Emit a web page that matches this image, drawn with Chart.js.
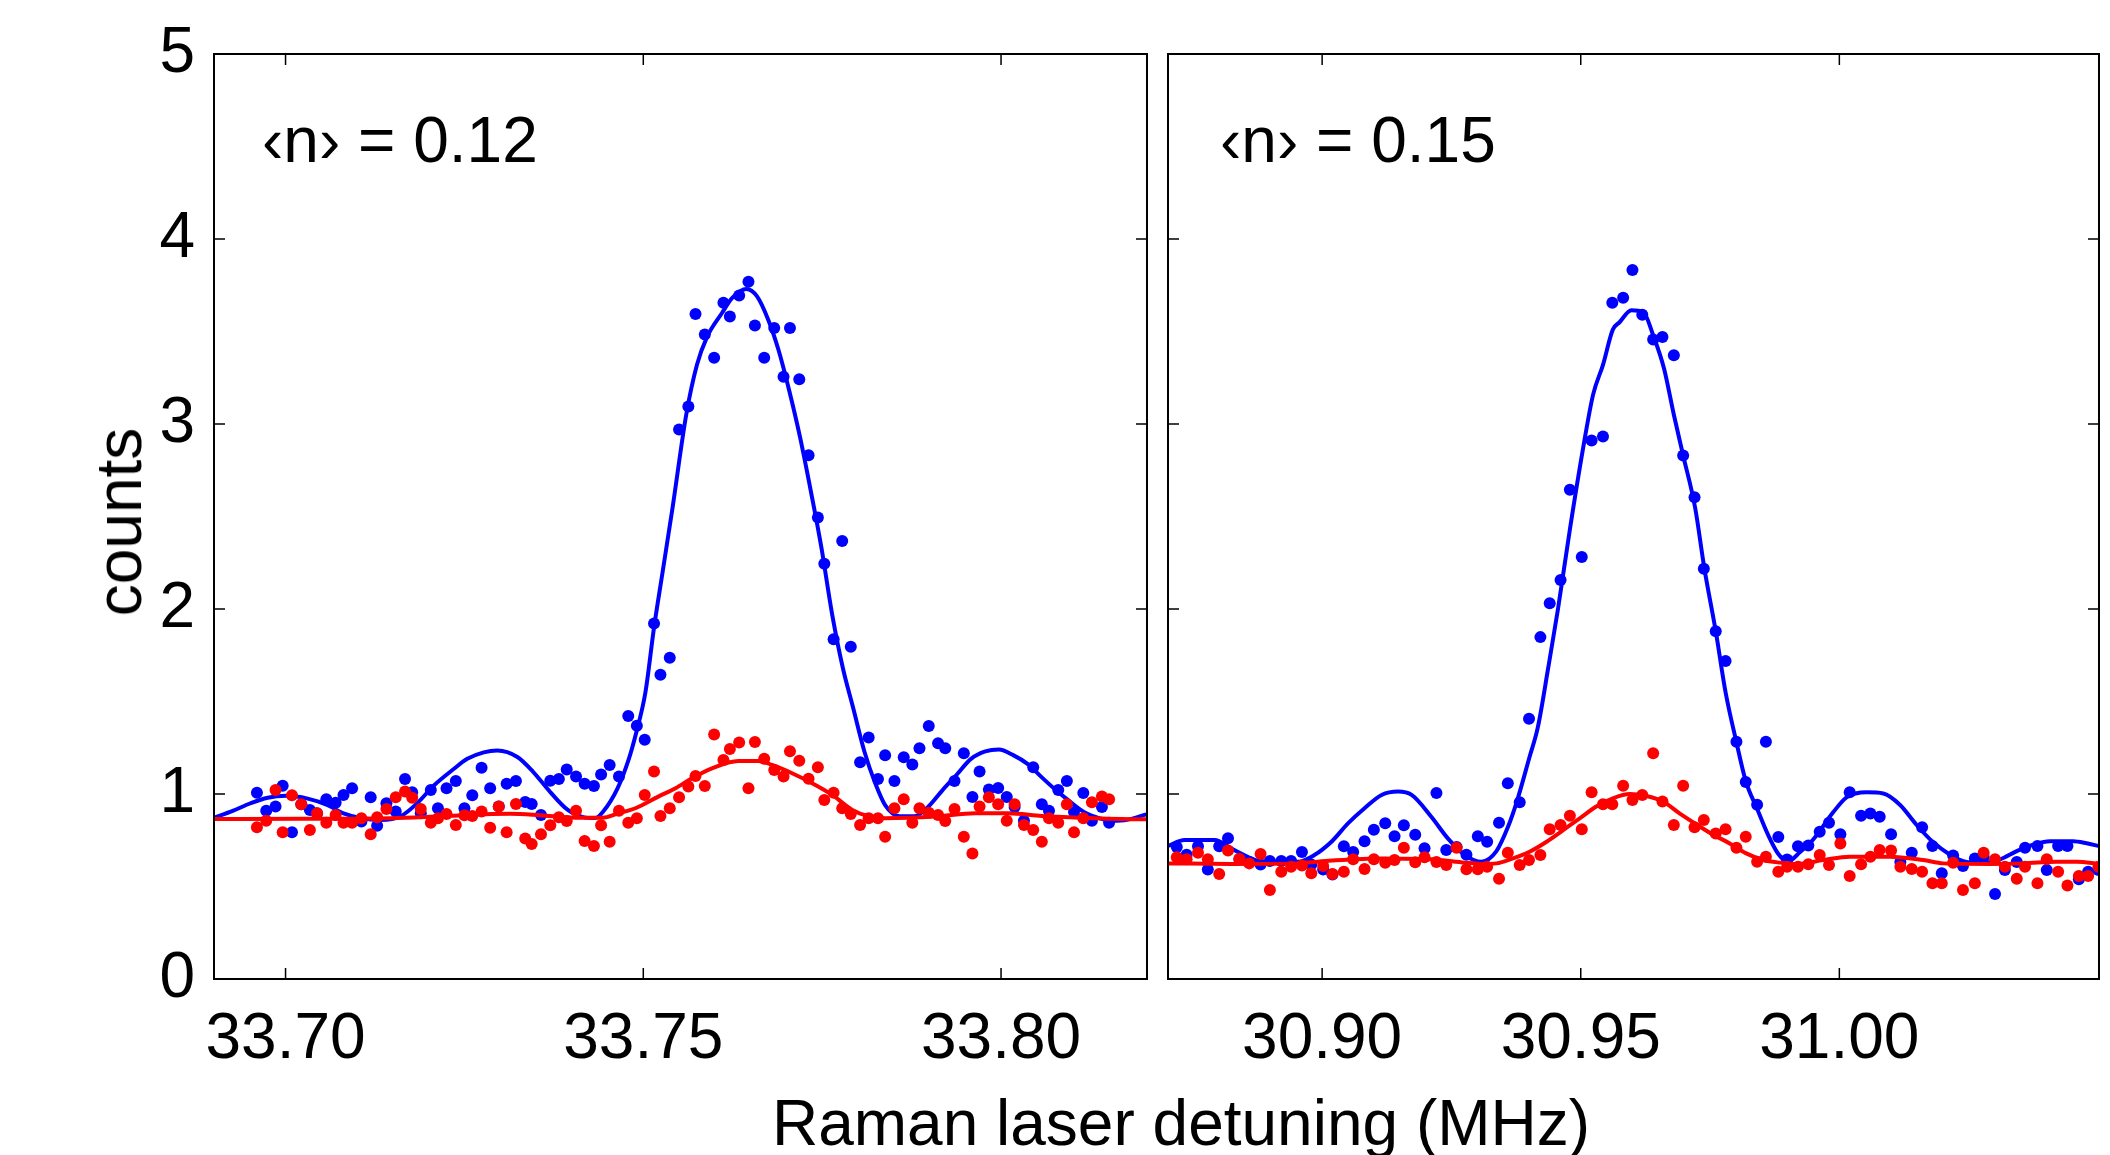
<!DOCTYPE html>
<html lang="es">
<head>
<meta charset="utf-8">
<title>Espectro Raman — bandas laterales</title>
<script src="https://cdn.jsdelivr.net/npm/chart.js@4.4.1/dist/chart.umd.min.js"></script>
<style>
  html, body { margin: 0; padding: 0; background: #fff; }
  #lienzo {
    position: relative; width: 2110px; height: 1155px; overflow: hidden;
    font-family: 'Liberation Sans', Arial, Helvetica, sans-serif; color: #000;
  }
  canvas { position: absolute; top: 0; }
  #grafica-izq { left: 0; }
  #grafica-der { left: 1150px; }
  .texto { position: absolute; font-size: 64px; line-height: 64px; white-space: nowrap; }
  #titulo-x { left: 1181px; top: 1091px; transform: translateX(-50%); }
  #titulo-y { left: 119px; top: 522px; transform: translate(-50%, -50%) rotate(-90deg); }
  #nota-izq { left: 262px; top: 108px; }
  #nota-der { left: 1220px; top: 108px; }
</style>
</head>
<body>
<div id="lienzo">
  <canvas id="grafica-izq" width="1160" height="1155"></canvas>
  <canvas id="grafica-der" width="960" height="1155"></canvas>
  <div class="texto" id="titulo-y">counts</div>
  <div class="texto" id="titulo-x">Raman laser detuning (MHz)</div>
  <div class="texto" id="nota-izq"></div>
  <div class="texto" id="nota-der"></div>
</div>
<script>
// Espectro de bandas laterales Raman (dos paneles)
// Puntos azules / rojos = cuentas medidas, líneas = ajuste teórico


// ─────────────────────────────────────────────────────────────
// Datos
// ─────────────────────────────────────────────────────────────

// Marcas de los ejes
const ticksY = [0, 1, 2, 3, 4, 5];
const ticksXIzq = [33.70, 33.75, 33.80];
const ticksXDer = [30.90, 30.95, 31.00];

// Anotaciones de cada panel
const notaIzq = '‹n› = 0.12';
const notaDer = '‹n› = 0.15';

// ── Panel izquierdo: desintonías medidas (MHz) ──────────────
const detIzq = [
  33.6960, 33.6973, 33.6986, 33.6996, 33.7009, 33.7022, 33.7034, 33.7044, 33.7057, 33.7070,
  33.7081, 33.7093, 33.7106, 33.7119, 33.7128, 33.7141, 33.7154, 33.7167, 33.7177, 33.7189,
  33.7203, 33.7213, 33.7225, 33.7238, 33.7250, 33.7261, 33.7274, 33.7286, 33.7298, 33.7309,
  33.7322, 33.7335,
  33.7344, 33.7357, 33.7370, 33.7382, 33.7393, 33.7406, 33.7418, 33.7431, 33.7441, 33.7453,
  33.7466, 33.7479, 33.7491, 33.7502, 33.7515, 33.7524, 33.7537, 33.7550, 33.7563, 33.7573,
  33.7586, 33.7599, 33.7612, 33.7621, 33.7634, 33.7647, 33.7656, 33.7669, 33.7683, 33.7696,
  33.7705, 33.7718, 33.7731, 33.7744, 33.7753, 33.7766, 33.7778,
  33.7790, 33.7803, 33.7815, 33.7828, 33.7838, 33.7851, 33.7864, 33.7876, 33.7886, 33.7899,
  33.7912, 33.7922, 33.7935, 33.7948, 33.7960, 33.7970, 33.7983, 33.7996, 33.8008, 33.8019,
  33.8032, 33.8045, 33.8057, 33.8067, 33.8080, 33.8092, 33.8102, 33.8115, 33.8127, 33.8141,
  33.8151
];

const azulIzq = [
  1.007, 0.910, 0.932, 1.045, 0.793, 0.944, 0.914, 0.896, 0.971, 0.953,
  0.995, 1.031, 0.851, 0.982, 0.829, 0.950, 0.905, 1.081, 1.009, 0.896,
  1.022, 0.923, 1.031, 1.070, 0.923, 0.993, 1.142, 1.031, 0.932, 1.056,
  1.070, 0.957,
  0.946, 0.887, 1.072, 1.081, 1.133, 1.094, 1.056, 1.043, 1.106, 1.157,
  1.094, 1.422, 1.369, 1.293, 1.922, 1.645, 1.737, 2.970, 3.094, 3.594,
  3.484, 3.358, 3.656, 3.581, 3.694, 3.769, 3.532, 3.358, 3.519, 3.255,
  3.519, 3.242, 2.831, 2.495, 2.245, 1.836, 2.368,
  1.796, 1.172, 1.306, 1.081, 1.210, 1.070, 1.199, 1.159, 1.247, 1.368,
  1.274, 1.247, 1.070, 1.220, 0.984, 1.121, 1.024, 1.032, 0.984, 0.930,
  0.855, 1.145, 0.944, 0.909, 1.022, 1.070, 0.903, 1.005, 0.855, 0.930,
  0.844
];

const rojoIzq = [
  0.820, 0.856, 1.022, 0.793, 0.993, 0.944, 0.805, 0.896, 0.845, 0.887,
  0.845, 0.845, 0.869, 0.782, 0.874, 0.919, 0.982, 1.013, 0.980, 0.919,
  0.845, 0.869, 0.892, 0.833, 0.885, 0.881, 0.906, 0.818, 0.932, 0.793,
  0.946, 0.759,
  0.730, 0.782, 0.831, 0.874, 0.854, 0.910, 0.746, 0.719, 0.831, 0.742,
  0.910, 0.845, 0.869, 0.995, 1.121, 0.881, 0.923, 0.982, 1.040, 1.097,
  1.043, 1.321, 1.184, 1.243, 1.279, 1.031, 1.281, 1.191, 1.130, 1.094,
  1.231, 1.180, 1.083, 1.144, 0.968, 1.007, 0.923,
  0.892, 0.833, 0.869, 0.869, 0.769, 0.923, 0.971, 0.845, 0.923, 0.899,
  0.887, 0.854, 0.919, 0.769, 0.679, 0.932, 0.982, 0.944, 0.856, 0.944,
  0.833, 0.805, 0.742, 0.869, 0.845, 0.944, 0.793, 0.869, 0.955, 0.986,
  0.971
];

const ajusteAzulIzqX = [
  33.6899, 33.6927, 33.6951, 33.6975, 33.7001, 33.7031, 33.7059, 33.7081, 33.7105, 33.7133,
  33.7161, 33.7184, 33.7207, 33.7235, 33.7254, 33.7277, 33.7296, 33.7324, 33.7346, 33.7370,
  33.7394, 33.7416, 33.7433, 33.7444, 33.7464, 33.7479, 33.7490, 33.7503, 33.7515, 33.7527,
  33.7541, 33.7560, 33.7575, 33.7589, 33.7610, 33.7624, 33.7644, 33.7659, 33.7675, 33.7689,
  33.7704, 33.7719, 33.7735, 33.7749, 33.7764, 33.7779, 33.7793, 33.7809, 33.7824, 33.7838,
  33.7858, 33.7879, 33.7898, 33.7918, 33.7937, 33.7958, 33.7978, 33.7997, 33.8017, 33.8038,
  33.8057, 33.8077, 33.8096, 33.8117, 33.8137, 33.8156, 33.8176, 33.8203
];
const ajusteAzulIzqY = [
  0.87, 0.91, 0.95, 0.98, 0.99, 0.975, 0.94, 0.895, 0.87, 0.86,
  0.88, 0.95, 1.045, 1.135, 1.19, 1.225, 1.235, 1.20, 1.12, 1.01,
  0.915, 0.875, 0.87, 0.905, 1.03, 1.18, 1.33, 1.55, 1.90, 2.20,
  2.55, 3.05, 3.32, 3.47, 3.60, 3.68, 3.73, 3.69, 3.56, 3.40,
  3.18, 2.93, 2.62, 2.33, 1.97, 1.68, 1.47, 1.23, 1.06, 0.94,
  0.88, 0.88, 0.93, 1.02, 1.10, 1.19, 1.23, 1.24, 1.21, 1.16,
  1.09, 1.02, 0.96, 0.90, 0.87, 0.855, 0.86, 0.89
];
const ajusteRojoIzqX = [
  33.6899, 33.7021, 33.7147, 33.7221, 33.7314, 33.7356, 33.7405, 33.7443, 33.7465, 33.7489,
  33.7521, 33.7545, 33.7568, 33.7596, 33.7633, 33.7661, 33.7680, 33.7708, 33.7736, 33.7764,
  33.7792, 33.7814, 33.7838, 33.7908, 33.7964, 33.8010, 33.8057, 33.8094, 33.8141, 33.8203
];
const ajusteRojoIzqY = [
  0.865, 0.866, 0.869, 0.880, 0.893, 0.885, 0.872, 0.872, 0.896, 0.923,
  0.986, 1.031, 1.085, 1.139, 1.178, 1.178, 1.157, 1.112, 1.058, 0.995,
  0.914, 0.881, 0.869, 0.878, 0.896, 0.896, 0.881, 0.874, 0.867, 0.863
];

// ── Panel derecho: desintonías medidas (MHz) ────────────────
const detDer = [
  30.8719, 30.8738, 30.8760, 30.8779, 30.8801, 30.8818, 30.8840, 30.8859, 30.8881, 30.8899,
  30.8921, 30.8940, 30.8961, 30.8979, 30.9002, 30.9020, 30.9042, 30.9060, 30.9082, 30.9100,
  30.9122, 30.9140, 30.9158, 30.9180, 30.9198, 30.9221, 30.9240, 30.9260, 30.9279, 30.9301,
  30.9319, 30.9342, 30.9359, 30.9382, 30.9400, 30.9422, 30.9440, 30.9461, 30.9479, 30.9502,
  30.9521, 30.9543, 30.9561, 30.9582, 30.9600, 30.9619, 30.9640, 30.9658, 30.9680, 30.9698,
  30.9720, 30.9738, 30.9761, 30.9780, 30.9801, 30.9819, 30.9841, 30.9858, 30.9882, 30.9899,
  30.9920,
  30.9940, 30.9962, 30.9980, 31.0002, 31.0020, 31.0042, 31.0060, 31.0078, 31.0100, 31.0118,
  31.0140, 31.0160, 31.0180, 31.0198, 31.0220, 31.0239, 31.0262, 31.0279, 31.0301, 31.0320,
  31.0343, 31.0359, 31.0383, 31.0401, 31.0423, 31.0441, 31.0463, 31.0481, 31.0501
];

const azulDer = [
  0.713, 0.672, 0.718, 0.592, 0.718, 0.761, 0.646, 0.632, 0.619, 0.638,
  0.638, 0.638, 0.686, 0.619, 0.592, 0.565, 0.718, 0.686, 0.745, 0.807,
  0.842, 0.772, 0.831, 0.780, 0.707, 1.006, 0.697, 0.713, 0.672, 0.772,
  0.742, 0.845, 1.058, 0.955, 1.407, 1.848, 2.031, 2.157, 2.644, 2.281,
  2.911, 2.932, 3.656, 3.683, 3.833, 3.591, 3.457, 3.470, 3.371, 2.830,
  2.604, 2.217, 1.880, 1.719, 1.283, 1.065, 0.942, 1.283, 0.767, 0.646,
  0.718,
  0.721, 0.796, 0.845, 0.782, 1.009, 0.883, 0.895, 0.877, 0.782, 0.632,
  0.683, 0.820, 0.719, 0.571, 0.667, 0.611, 0.652, 0.659, 0.459, 0.589,
  0.632, 0.710, 0.719, 0.589, 0.719, 0.719, 0.539, 0.580, 0.589
];

const rojoDer = [
  0.658, 0.647, 0.683, 0.647, 0.568, 0.694, 0.650, 0.625, 0.676, 0.481,
  0.580, 0.607, 0.613, 0.571, 0.611, 0.568, 0.580, 0.647, 0.595, 0.647,
  0.629, 0.643, 0.710, 0.631, 0.658, 0.632, 0.616, 0.710, 0.593, 0.593,
  0.607, 0.542, 0.683, 0.616, 0.643, 0.670, 0.809, 0.832, 0.883, 0.809,
  1.009, 0.944, 0.944, 1.045, 0.968, 0.995, 1.220, 0.959, 0.832, 1.045,
  0.820, 0.859, 0.787, 0.809, 0.710, 0.769, 0.634, 0.661, 0.580, 0.607,
  0.607,
  0.620, 0.670, 0.616, 0.733, 0.557, 0.620, 0.661, 0.697, 0.694, 0.607,
  0.595, 0.580, 0.517, 0.517, 0.629, 0.481, 0.517, 0.683, 0.647, 0.607,
  0.542, 0.607, 0.517, 0.647, 0.580, 0.506, 0.557, 0.557, 0.607
];

// Curvas de ajuste del panel derecho
const ajusteAzulDerX = [
  30.8702, 30.8734, 30.8792, 30.8824, 30.8856, 30.8882, 30.8953, 30.8985, 30.9018, 30.9050,
  30.9082, 30.9115, 30.9147, 30.9173, 30.9211, 30.9243, 30.9276, 30.9308, 30.9337,
  30.9359, 30.9376, 30.9401, 30.9417, 30.9437, 30.9456, 30.9479, 30.9504, 30.9524, 30.9543,
  30.9562, 30.9575, 30.9598, 30.9621, 30.9640, 30.9661, 30.9680, 30.9698, 30.9721, 30.9739,
  30.9761, 30.9780, 30.9801, 30.9819, 30.9841, 30.9862, 30.9881, 30.9900, 30.9924,
  30.9949, 30.9988, 31.0014, 31.0053, 31.0085, 31.0117, 31.0149, 31.0181, 31.0214, 31.0246,
  31.0278, 31.0310, 31.0343, 31.0375, 31.0407, 31.0452, 31.0478, 31.0502
];
const ajusteAzulDerY = [
  0.719, 0.751, 0.751, 0.706, 0.661, 0.634, 0.634, 0.670, 0.742, 0.841,
  0.923, 0.995, 1.013, 0.995, 0.877, 0.760, 0.670, 0.634, 0.691,
  0.820, 0.955, 1.20, 1.36, 1.68, 2.00, 2.43, 2.86, 3.16, 3.32,
  3.51, 3.55, 3.615, 3.605, 3.48, 3.30, 3.05, 2.83, 2.55, 2.22,
  1.88, 1.55, 1.28, 1.07, 0.92, 0.78, 0.68, 0.635, 0.686,
  0.753, 0.901, 0.982, 1.009, 1.003, 0.942, 0.834, 0.740, 0.672, 0.632,
  0.627, 0.646, 0.691, 0.726, 0.745, 0.745, 0.734, 0.718
];
const ajusteRojoDerX = [
  30.8702, 30.8824, 30.8953, 30.9018, 30.9115, 30.9211, 30.9276, 30.9308, 30.9337, 30.9369,
  30.9401, 30.9434, 30.9466, 30.9498, 30.9530, 30.9562, 30.9595, 30.9627, 30.9659, 30.9691,
  30.9724, 30.9756, 30.9788, 30.9820, 30.9853, 30.9885, 30.9920, 30.9969, 31.0020, 31.0098,
  31.0162, 31.0201, 31.0291, 31.0356, 31.0420, 31.0459, 31.0502
];
const ajusteRojoDerY = [
  0.625, 0.622, 0.625, 0.640, 0.652, 0.647, 0.629, 0.622, 0.625, 0.652,
  0.688, 0.742, 0.805, 0.868, 0.932, 0.977, 1.000, 0.989, 0.959, 0.895,
  0.835, 0.780, 0.733, 0.679, 0.643, 0.629, 0.622, 0.643, 0.661, 0.661,
  0.643, 0.625, 0.622, 0.625, 0.634, 0.634, 0.622
];


// ─────────────────────────────────────────────────────────────
// Estilo común
// ─────────────────────────────────────────────────────────────
const AZUL = '#0000ff';
const ROJO = '#ff0000';
const FUENTE = "'Liberation Sans', Arial, Helvetica, sans-serif";

Chart.defaults.font.family = FUENTE;
Chart.defaults.color = '#000';

// Une dos listas en pares {x, y} para Chart.js
function pares(xs, ys) {
  return xs.map((x, i) => ({ x, y: ys[i] }));
}


// ─────────────────────────────────────────────────────────────
// Plugin: marco negro y marcas hacia dentro en los cuatro lados
// ─────────────────────────────────────────────────────────────
const marcoConTicks = {
  id: 'marcoConTicks',
  afterDatasetsDraw(chart, args, opciones) {
    const { ctx, chartArea: area, scales } = chart;
    const largo = 11;

    ctx.save();
    ctx.strokeStyle = '#000';
    ctx.lineWidth = 1.5;
    ctx.beginPath();

    opciones.ticksX.forEach(v => {
      const px = scales.x.getPixelForValue(v);
      ctx.moveTo(px, area.bottom); ctx.lineTo(px, area.bottom - largo);
      ctx.moveTo(px, area.top);    ctx.lineTo(px, area.top + largo);
    });

    opciones.ticksY.forEach(v => {
      const py = scales.y.getPixelForValue(v);
      ctx.moveTo(area.left, py);  ctx.lineTo(area.left + largo, py);
      ctx.moveTo(area.right, py); ctx.lineTo(area.right - largo, py);
    });

    ctx.stroke();

    ctx.lineWidth = 2;
    ctx.strokeRect(area.left, area.top, area.right - area.left, area.bottom - area.top);
    ctx.restore();
  }
};


// ─────────────────────────────────────────────────────────────
// Crea un panel (puntos + ajustes)
// ─────────────────────────────────────────────────────────────
function crearPanel(canvasId, p) {

  const ctx = document.getElementById(canvasId).getContext('2d');

  const puntos = (datos, color, orden) => ({
    data: datos,
    showLine: false,
    backgroundColor: color,
    borderColor: color,
    pointRadius: 6,
    pointBorderWidth: 0,
    pointHoverRadius: 6,
    order: orden,
    clip: 0
  });

  const linea = (datos, color, orden) => ({
    data: datos,
    showLine: true,
    borderColor: color,
    borderWidth: 4,
    pointRadius: 0,
    pointHitRadius: 0,
    cubicInterpolationMode: 'monotone',
    fill: false,
    order: orden,
    clip: 0
  });

  return new Chart(ctx, {
    type: 'scatter',
    data: {
      datasets: [
        linea(pares(p.ajusteRojoX, p.ajusteRojoY), ROJO, 0),
        puntos(pares(p.det, p.rojo), ROJO, 1),
        linea(pares(p.ajusteAzulX, p.ajusteAzulY), AZUL, 2),
        puntos(pares(p.det, p.azul), AZUL, 3)
      ]
    },
    options: {
      responsive: false,
      animation: false,
      layout: { padding: { top: 54, bottom: 0, left: p.margenIzq, right: p.margenDer } },
      plugins: {
        legend: { display: false },
        tooltip: { enabled: false },
        marcoConTicks: { ticksX: p.ticksX, ticksY: ticksY }
      },
      scales: {
        x: {
          type: 'linear',
          min: p.min,
          max: p.max,
          grid: { display: false },
          border: { display: false },
          afterBuildTicks: s => { s.ticks = p.ticksX.map(v => ({ value: v })); },
          afterFit: s => { s.height = 176; },
          ticks: {
            autoSkip: false,
            maxRotation: 0,
            padding: 15,
            color: '#000',
            font: { family: FUENTE, size: 64 },
            callback: v => v.toFixed(2)
          }
        },
        y: {
          type: 'linear',
          min: 0,
          max: 5,
          display: p.conEjeY,
          grid: { display: false },
          border: { display: false },
          afterBuildTicks: s => { s.ticks = ticksY.map(v => ({ value: v })); },
          // Solo el panel izquierdo reserva espacio para las etiquetas
          afterFit: s => { s.width = p.conEjeY ? 214 : 0; },
          ticks: {
            padding: 11,
            color: '#000',
            font: { family: FUENTE, size: 64 },
            callback: v => String(v)
          }
        }
      }
    },
    plugins: [marcoConTicks]
  });

}


// ─────────────────────────────────────────────────────────────
// Inicialización
// ─────────────────────────────────────────────────────────────
document.getElementById('nota-izq').textContent = notaIzq;
document.getElementById('nota-der').textContent = notaDer;

crearPanel('grafica-izq', {
  det: detIzq, azul: azulIzq, rojo: rojoIzq,
  ajusteAzulX: ajusteAzulIzqX, ajusteAzulY: ajusteAzulIzqY,
  ajusteRojoX: ajusteRojoIzqX, ajusteRojoY: ajusteRojoIzqY,
  ticksX: ticksXIzq,
  min: 33.6900, max: 33.8204,
  conEjeY: true,
  margenIzq: 0, margenDer: 13
});

crearPanel('grafica-der', {
  det: detDer, azul: azulDer, rojo: rojoDer,
  ajusteAzulX: ajusteAzulDerX, ajusteAzulY: ajusteAzulDerY,
  ajusteRojoX: ajusteRojoDerX, ajusteRojoY: ajusteRojoDerY,
  ticksX: ticksXDer,
  min: 30.8702, max: 31.0502,
  conEjeY: false,
  margenIzq: 18, margenDer: 11
});
</script>
</body>
</html>
